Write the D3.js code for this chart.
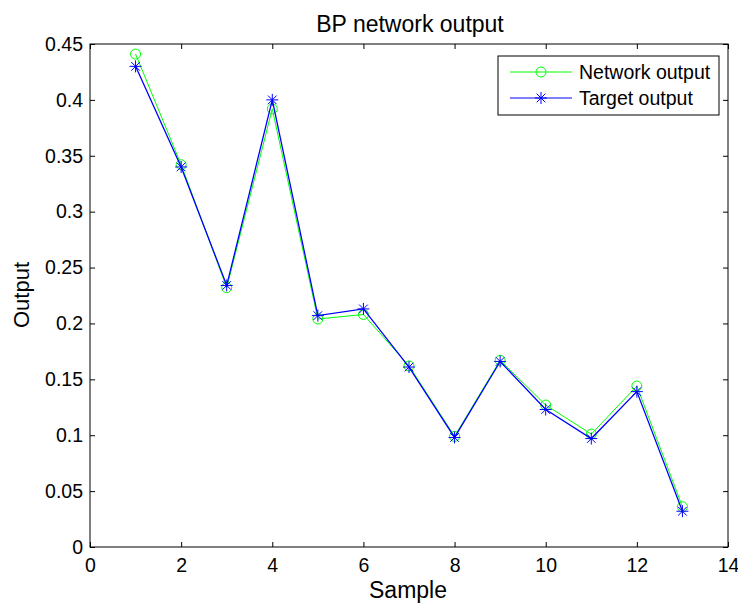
<!DOCTYPE html>
<html>
<head>
<meta charset="utf-8">
<script src="https://cdn.jsdelivr.net/npm/d3@7"></script>
<style>
body { margin: 0; background: #fff; }
text { font-family: "Liberation Sans", Arial, sans-serif; fill: #000; }
</style>
</head>
<body>
<svg id="chart" width="738" height="604"></svg>
<script>
// samples 1..13
var samples = [1, 2, 3, 4, 5, 6, 7, 8, 9, 10, 11, 12, 13];
var networkOutput = [0.441, 0.342, 0.232, 0.392, 0.204, 0.208, 0.162, 0.099, 0.167, 0.127, 0.101, 0.144, 0.036];
var targetOutput = [0.430, 0.340, 0.234, 0.400, 0.207, 0.213, 0.161, 0.098, 0.166, 0.123, 0.097, 0.139, 0.032];
var xTicks = [0, 2, 4, 6, 8, 10, 12, 14];
var yTicks = [0, 0.05, 0.1, 0.15, 0.2, 0.25, 0.3, 0.35, 0.4, 0.45];

// plot box (window.top is reserved, so not "top")
var pLeft = 90, pRight = 728, pTop = 44, pBottom = 547;
var svg = d3.select("#chart");

var x = d3.scaleLinear().domain([0, 14]).range([pLeft, pRight]);
var y = d3.scaleLinear().domain([0, 0.45]).range([pBottom, pTop]);

// box
svg.append("rect")
	.attr("x", pLeft).attr("y", pTop)
	.attr("width", pRight - pLeft).attr("height", pBottom - pTop)
	.attr("fill", "#fff").attr("stroke", "#000").attr("stroke-width", 1);

// ticks, MATLAB style: inward, mirrored
function axisStyle(g) {
	g.select(".domain").remove();
	g.selectAll(".tick line").attr("stroke", "#000");
	g.selectAll(".tick text").attr("font-size", "19.5px").attr("font-family", "Liberation Sans, Arial, sans-serif");
}
var fmt = function (d) { return String(+d.toFixed(2)); };

svg.append("g").attr("transform", "translate(0," + pBottom + ")")
	.call(d3.axisBottom(x).tickValues(xTicks).tickSizeInner(-5).tickSizeOuter(0).tickPadding(11).tickFormat(fmt))
	.call(axisStyle);
svg.append("g").attr("transform", "translate(0," + pTop + ")")
	.call(d3.axisTop(x).tickValues(xTicks).tickSizeInner(-5).tickSizeOuter(0).tickFormat(""))
	.call(axisStyle);
svg.append("g").attr("transform", "translate(" + pLeft + ",0)")
	.call(d3.axisLeft(y).tickValues(yTicks).tickSizeInner(-5).tickSizeOuter(0).tickPadding(7).tickFormat(fmt))
	.call(axisStyle);
svg.append("g").attr("transform", "translate(" + pRight + ",0)")
	.call(d3.axisRight(y).tickValues(yTicks).tickSizeInner(-5).tickSizeOuter(0).tickFormat(""))
	.call(axisStyle);

var line = d3.line()
	.x(function (d, i) { return x(samples[i]); })
	.y(function (d) { return y(d); });

function star(g, cx, cy, r, color) {
	var s = g.append("g").attr("transform", "translate(" + cx + "," + cy + ")")
		.attr("stroke", color).attr("stroke-width", 1);
	s.append("line").attr("x1", -r).attr("x2", r).attr("y1", 0).attr("y2", 0);
	s.append("line").attr("x1", 0).attr("x2", 0).attr("y1", -r).attr("y2", r);
	var q = r * 0.72;
	s.append("line").attr("x1", -q).attr("x2", q).attr("y1", -q).attr("y2", q);
	s.append("line").attr("x1", -q).attr("x2", q).attr("y1", q).attr("y2", -q);
}

// network output (green, circles)
svg.append("path").datum(networkOutput)
	.attr("d", line).attr("fill", "none").attr("stroke", "#00ff00").attr("stroke-width", 1);
svg.selectAll("circle.net").data(networkOutput).enter().append("circle")
	.attr("class", "net")
	.attr("cx", function (d, i) { return x(samples[i]); })
	.attr("cy", function (d) { return y(d); })
	.attr("r", 5).attr("fill", "none").attr("stroke", "#00ff00").attr("stroke-width", 1);

// target output (blue, stars)
svg.append("path").datum(targetOutput)
	.attr("d", line).attr("fill", "none").attr("stroke", "#0000ff").attr("stroke-width", 1.3);
var stars = svg.append("g");
targetOutput.forEach(function (d, i) {
	star(stars, x(samples[i]), y(d), 6, "#0000ff");
});

// title and labels
svg.append("text").attr("x", 410).attr("y", 32).attr("text-anchor", "middle")
	.attr("font-size", "23px").text("BP network output");
svg.append("text").attr("x", 408).attr("y", 598).attr("text-anchor", "middle")
	.attr("font-size", "23px").text("Sample");
svg.append("text").attr("transform", "translate(29,295) rotate(-90)").attr("text-anchor", "middle")
	.attr("font-size", "22px").text("Output");

// legend
var lg = svg.append("g");
lg.append("rect").attr("x", 498).attr("y", 56).attr("width", 221).attr("height", 59)
	.attr("fill", "#fff").attr("stroke", "#000").attr("stroke-width", 1);
var legendItems = [
	{ label: "Network output", color: "#00ff00", marker: "circle" },
	{ label: "Target output", color: "#0000ff", marker: "star" }
];
legendItems.forEach(function (d, i) {
	var ly = 72 + i * 26;
	lg.append("line").attr("x1", 510).attr("x2", 572).attr("y1", ly).attr("y2", ly)
		.attr("stroke", d.color).attr("stroke-width", 1);
	if (d.marker === "circle") {
		lg.append("circle").attr("cx", 541).attr("cy", ly).attr("r", 5)
			.attr("fill", "none").attr("stroke", d.color);
	} else {
		star(lg, 541, ly, 6, d.color);
	}
	lg.append("text").attr("x", 579).attr("y", ly + 7).attr("font-size", "19.5px").text(d.label);
});
</script>
</body>
</html>
